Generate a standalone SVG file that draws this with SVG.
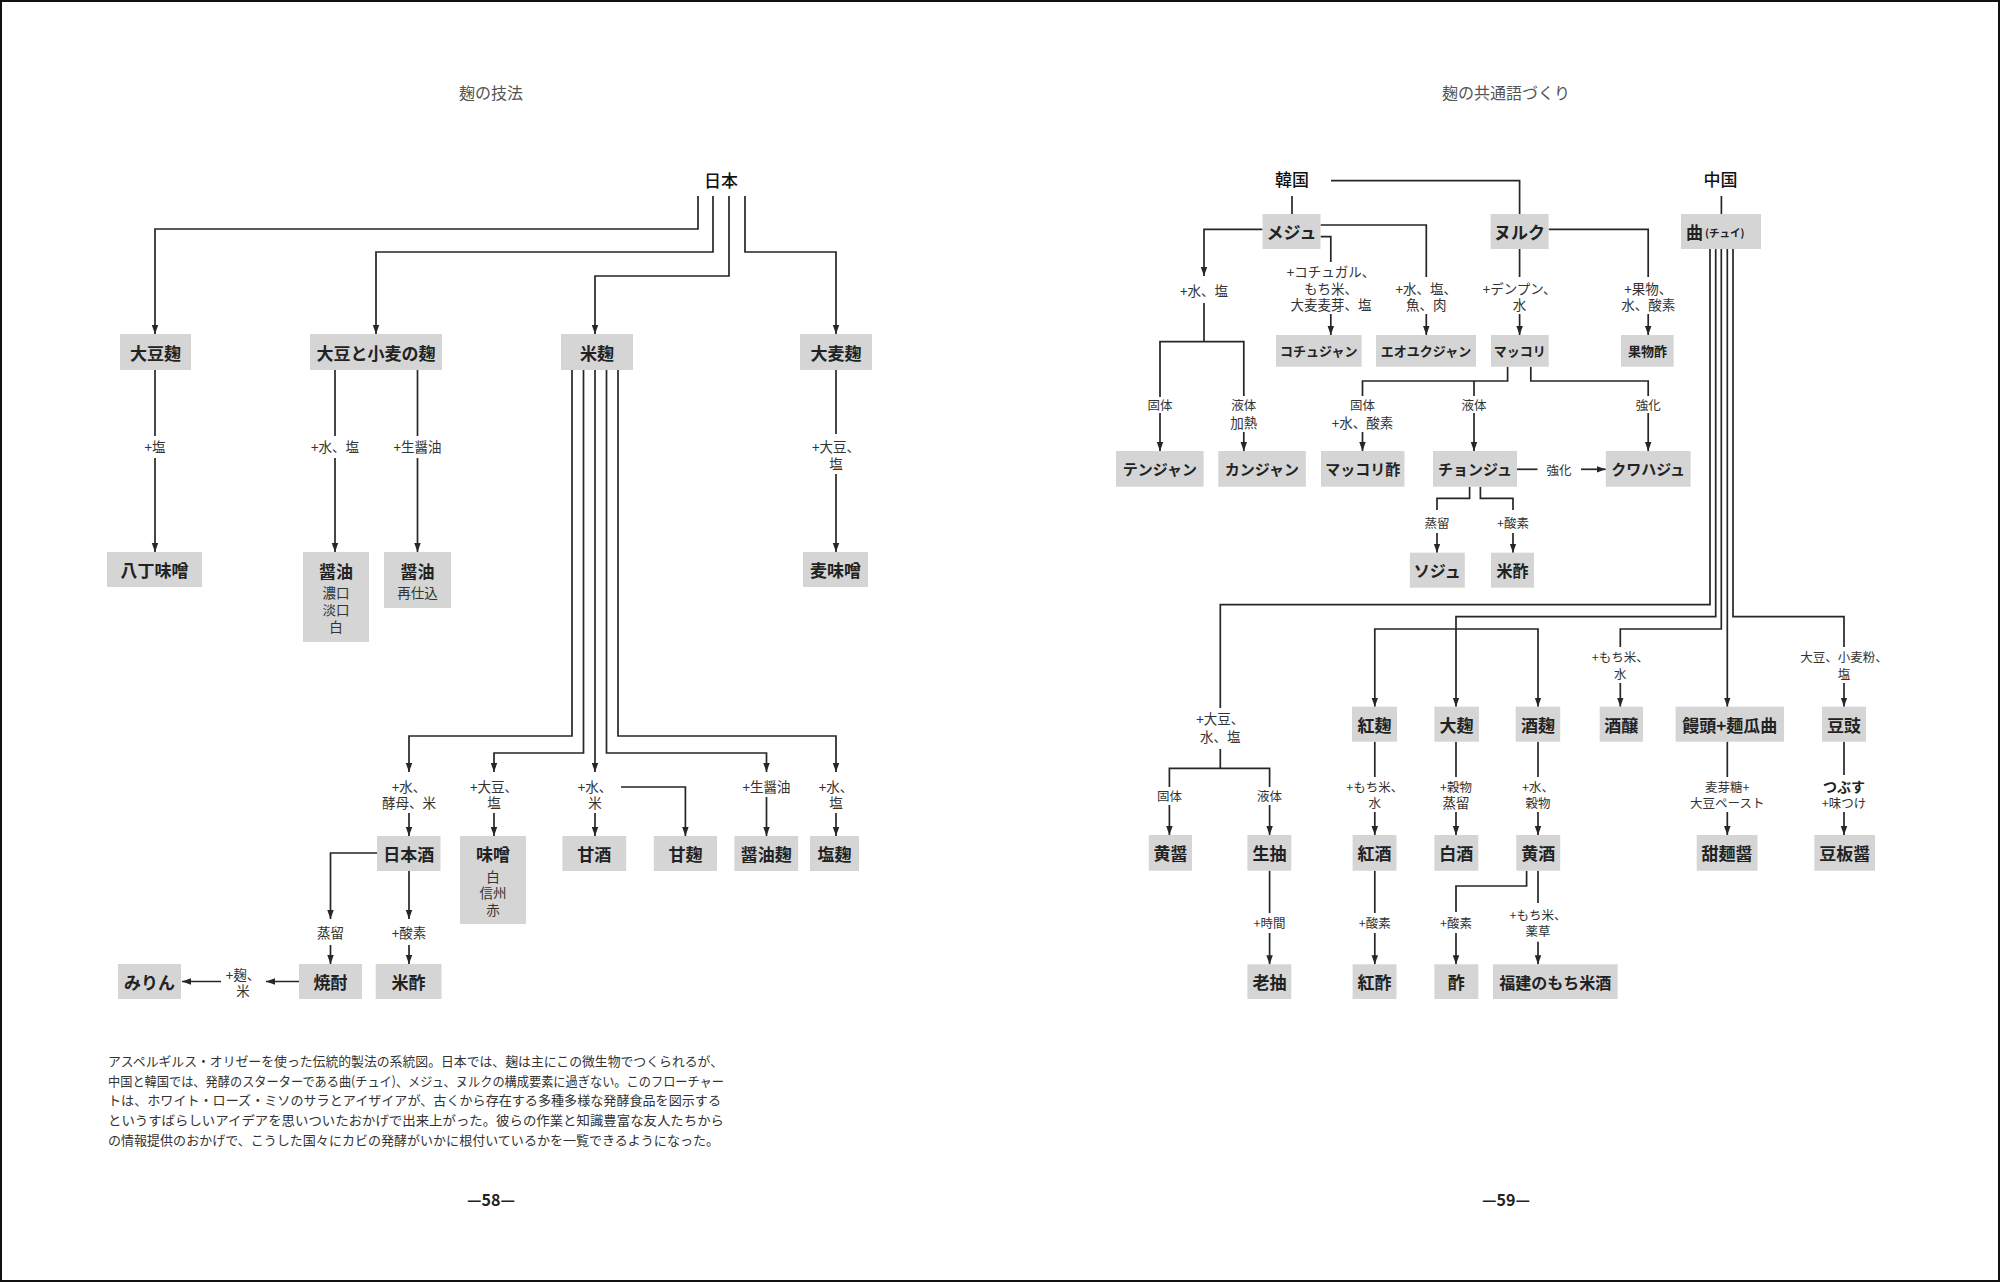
<svg xmlns="http://www.w3.org/2000/svg" width="2000" height="1282" viewBox="0 0 2000 1282">
<defs>
<style>
text{font-family:"Noto Sans CJK JP","Noto Sans CJK SC",sans-serif;fill:#222;text-anchor:middle;dominant-baseline:central}
.box{fill:#d5d5d5}
.b{font-size:17px;font-weight:700}
.bm{font-size:15px;font-weight:700}
.bs{font-size:13px;font-weight:700}
.b16{font-size:16px;font-weight:700}
.sub{font-size:13.5px;fill:#333}
.lb{font-size:13.5px;fill:#333}
.ls{font-size:12.5px;fill:#333}
.lbb{font-size:14px;font-weight:700;fill:#222}
.hd{font-size:17px;font-weight:500;fill:#111}
.ttl{font-size:16px;fill:#555}
.para{font-size:13px;fill:#333;text-anchor:start}
.pg{font-size:16px;font-weight:700;fill:#222}
.c path{fill:none;stroke:#262626;stroke-width:1.7}
.c path.a{marker-end:url(#ah)}
</style>
<marker id="ah" viewBox="0 0 10 10" refX="10" refY="5" markerWidth="9" markerHeight="9" markerUnits="userSpaceOnUse" orient="auto">
<path d="M0,1.4L10,5L0,8.6z" fill="#262626"/>
</marker>
</defs>
<rect x="0" y="0" width="2000" height="1282" fill="#fff"/>
<rect x="1" y="1" width="1998" height="1280" fill="none" stroke="#111" stroke-width="2"/>

<g id="titles">
<text class="ttl" x="491" y="92">麹の技法</text>
<text class="ttl" x="1506" y="92">麹の共通語づくり</text>
<text class="pg" x="491" y="1199">—58—</text>
<text class="pg" x="1506" y="1199">—59—</text>
</g>

<g id="caption">
<text class="para" x="108" y="1060" textLength="615" lengthAdjust="spacingAndGlyphs">アスペルギルス・オリゼーを使った伝統的製法の系統図。日本では、麹は主にこの微生物でつくられるが、</text>
<text class="para" x="108" y="1080" textLength="616" lengthAdjust="spacingAndGlyphs">中国と韓国では、発酵のスターターである曲(チュイ)、メジュ、ヌルクの構成要素に過ぎない。このフローチャー</text>
<text class="para" x="108" y="1099.5" textLength="613" lengthAdjust="spacingAndGlyphs">トは、ホワイト・ローズ・ミソのサラとアイザイアが、古くから存在する多種多様な発酵食品を図示する</text>
<text class="para" x="108" y="1119" textLength="616" lengthAdjust="spacingAndGlyphs">というすばらしいアイデアを思いついたおかげで出来上がった。彼らの作業と知識豊富な友人たちから</text>
<text class="para" x="108" y="1139" textLength="611" lengthAdjust="spacingAndGlyphs">の情報提供のおかげで、こうした国々にカビの発酵がいかに根付いているかを一覧できるようになった。</text>
</g>

<g id="connectors" class="c">
<path class="a" d="M698,196V229H155V334"/>
<path class="a" d="M713,196V252H376V334"/>
<path class="a" d="M729,196V276H595V334"/>
<path class="a" d="M745,196V252H836V334"/>
<path d="M155,370V436"/>
<path class="a" d="M155,458V552"/>
<path d="M335,370V436"/>
<path class="a" d="M335,458V552"/>
<path d="M417.5,370V436"/>
<path class="a" d="M417.5,458V552"/>
<path d="M836,370V434"/>
<path class="a" d="M836,474V552"/>
<path class="a" d="M572,370V736H409V772"/>
<path class="a" d="M583.5,370V753H494V772"/>
<path class="a" d="M595,370V772"/>
<path class="a" d="M606.5,370V753H766.5V772"/>
<path class="a" d="M618,370V736H836V772"/>
<path class="a" d="M409,813V836"/>
<path class="a" d="M494,813V836"/>
<path class="a" d="M595,813V836"/>
<path class="a" d="M621,787H685.4V836"/>
<path class="a" d="M766.5,797V836"/>
<path class="a" d="M836,813V836"/>
<path class="a" d="M377,853H330.5V919"/>
<path class="a" d="M409,871V919"/>
<path class="a" d="M330.5,945V964"/>
<path class="a" d="M409,945V964"/>
<path class="a" d="M299,981.5H266"/>
<path class="a" d="M221,981.5H182"/>

<path d="M1331,180.7H1519.6V214"/>
<path d="M1292,196V214"/>
<path d="M1721.4,196V214"/>
<path class="a" d="M1262.5,229.3H1204V276"/>
<path d="M1204,303V341.7"/>
<path d="M1160,397V341.7H1243.8V396"/>
<path class="a" d="M1160,413V451"/>
<path class="a" d="M1243.8,432V451"/>
<path d="M1320.5,236.7H1330.8V262"/>
<path class="a" d="M1330.8,314V335"/>
<path d="M1320.5,225H1426.3V277"/>
<path class="a" d="M1426.3,314V335"/>
<path d="M1519.6,249V277"/>
<path class="a" d="M1519.6,314V335"/>
<path d="M1548.7,229.3H1648.2V277"/>
<path class="a" d="M1648.2,314V335"/>
<path d="M1507.6,366.7V381H1362.5V396"/>
<path d="M1474,381V396"/>
<path d="M1530.8,366.7V381H1648.2V396"/>
<path class="a" d="M1362.5,432V451"/>
<path class="a" d="M1474,413V451"/>
<path class="a" d="M1648.2,413V451"/>
<path d="M1517,469.3H1537.5"/>
<path class="a" d="M1581,469.3H1605.8"/>
<path d="M1469.6,486.7V498.3H1437V510"/>
<path class="a" d="M1437,533V552.7"/>
<path d="M1480.4,486.7V498.3H1513V510"/>
<path class="a" d="M1513,533V552.7"/>

<path d="M1710,249V604.7H1220.3V708"/>
<path d="M1220.3,749V768.3"/>
<path d="M1169.4,787V768.3H1269.6V787"/>
<path class="a" d="M1169.4,805V835"/>
<path class="a" d="M1269.6,805V835"/>
<path class="a" d="M1715.7,249V616.7H1456V706.7"/>
<path class="a" d="M1456,629H1374.8V706.7"/>
<path class="a" d="M1456,629H1538V706.7"/>
<path d="M1721.3,249V629H1620.3V647"/>
<path class="a" d="M1620.3,683V706.7"/>
<path class="a" d="M1727.3,249V706.7"/>
<path d="M1733,249V616.7H1844V647"/>
<path class="a" d="M1844,683V706.7"/>
<path d="M1374.8,741.7V777"/>
<path class="a" d="M1374.8,812V835"/>
<path d="M1456,741.7V777"/>
<path class="a" d="M1456,812V835"/>
<path d="M1538,741.7V777"/>
<path class="a" d="M1538,812V835"/>
<path d="M1727.3,741.7V777"/>
<path class="a" d="M1727.3,812V835"/>
<path d="M1844,741.7V775"/>
<path class="a" d="M1844,812V835"/>
<path d="M1269.6,870.7V913"/>
<path class="a" d="M1269.6,933V964.3"/>
<path d="M1374.8,870.7V913"/>
<path class="a" d="M1374.8,933V964.3"/>
<path d="M1526.6,870.7V886H1456V912"/>
<path class="a" d="M1456,933V964.3"/>
<path d="M1538,870.7V903"/>
<path class="a" d="M1538,941.7V964.3"/>
</g>

<g id="labels">
<text class="lb" x="155" y="446">+塩</text>
<text class="lb" x="335" y="446">+水、塩</text>
<text class="lb" x="417.5" y="446">+生醤油</text>
<text class="lb" x="836" y="446">+大豆、</text>
<text class="lb" x="836" y="463">塩</text>
<text class="lb" x="409" y="786">+水、</text>
<text class="lb" x="409" y="802">酵母、米</text>
<text class="lb" x="494" y="786">+大豆、</text>
<text class="lb" x="494" y="802">塩</text>
<text class="lb" x="595" y="786">+水、</text>
<text class="lb" x="595" y="802">米</text>
<text class="lb" x="766.5" y="786">+生醤油</text>
<text class="lb" x="836" y="786">+水、</text>
<text class="lb" x="836" y="802">塩</text>
<text class="lb" x="330.5" y="932">蒸留</text>
<text class="lb" x="409" y="932">+酸素</text>
<text class="lb" x="243" y="974">+麹、</text>
<text class="lb" x="243" y="990">米</text>

<text class="lb" x="1204" y="290">+水、塩</text>
<text class="lb" x="1331" y="270.7">+コチュガル、</text>
<text class="lb" x="1331" y="288.3">もち米、</text>
<text class="lb" x="1331" y="304.3">大麦麦芽、塩</text>
<text class="lb" x="1426.3" y="287.7">+水、塩、</text>
<text class="lb" x="1426.3" y="304.3">魚、肉</text>
<text class="lb" x="1519.6" y="287.7">+デンプン、</text>
<text class="lb" x="1519.6" y="304.3">水</text>
<text class="lb" x="1648.2" y="287.7">+果物、</text>
<text class="lb" x="1648.2" y="304.3">水、酸素</text>
<text class="ls" x="1160" y="404">固体</text>
<text class="ls" x="1243.8" y="404">液体</text>
<text class="lb" x="1243.8" y="422.3">加熱</text>
<text class="ls" x="1362.5" y="404">固体</text>
<text class="lb" x="1362.5" y="422">+水、酸素</text>
<text class="ls" x="1474" y="404">液体</text>
<text class="ls" x="1648.2" y="404">強化</text>
<text class="ls" x="1559" y="469.3">強化</text>
<text class="ls" x="1437" y="522.7">蒸留</text>
<text class="ls" x="1513" y="522.7">+酸素</text>
<text class="lb" x="1220.3" y="718.3">+大豆、</text>
<text class="lb" x="1220.3" y="736">水、塩</text>
<text class="ls" x="1169.4" y="795">固体</text>
<text class="ls" x="1269.6" y="795">液体</text>
<text class="ls" x="1620.3" y="656.7">+もち米、</text>
<text class="ls" x="1620.3" y="673.3">水</text>
<text class="ls" x="1844" y="656.7">大豆、小麦粉、</text>
<text class="ls" x="1844" y="673.3">塩</text>
<text class="ls" x="1374.8" y="786">+もち米、</text>
<text class="ls" x="1374.8" y="802.3">水</text>
<text class="ls" x="1456" y="786">+穀物</text>
<text class="lb" x="1456" y="802.3">蒸留</text>
<text class="ls" x="1538" y="786">+水、</text>
<text class="ls" x="1538" y="802.3">穀物</text>
<text class="ls" x="1727.3" y="786">麦芽糖+</text>
<text class="ls" x="1727.3" y="802.3">大豆ペースト</text>
<text class="lbb" x="1844" y="786">つぶす</text>
<text class="ls" x="1844" y="802.3">+味つけ</text>
<text class="ls" x="1269.6" y="922.7">+時間</text>
<text class="ls" x="1374.8" y="922.7">+酸素</text>
<text class="ls" x="1456" y="922.7">+酸素</text>
<text class="ls" x="1538" y="914.3">+もち米、</text>
<text class="ls" x="1538" y="930">薬草</text>
</g>

<g id="n-nihon"><text class="hd" x="721" y="179">日本</text></g>
<g id="n-kankoku"><text class="hd" x="1292" y="178.3">韓国</text></g>
<g id="n-chugoku"><text class="hd" x="1720.5" y="178.3">中国</text></g>

<g id="n-daizu-koji"><rect class="box" x="120" y="334" width="71" height="36"/><text class="b" x="155.5" y="352">大豆麹</text></g>
<g id="n-daizu-komugi-koji"><rect class="box" x="310" y="334" width="132" height="36"/><text class="b" x="376" y="352">大豆と小麦の麹</text></g>
<g id="n-kome-koji"><rect class="box" x="561" y="334" width="72" height="36"/><text class="b" x="597" y="352">米麹</text></g>
<g id="n-omugi-koji"><rect class="box" x="800" y="334" width="72" height="36"/><text class="b" x="836" y="352">大麦麹</text></g>
<g id="n-hatcho-miso"><rect class="box" x="107" y="552" width="95" height="35"/><text class="b" x="154.5" y="569.5">八丁味噌</text></g>
<g id="n-shoyu1"><rect class="box" x="303" y="552" width="66" height="90"/><text class="b" x="336" y="570">醤油</text><text class="sub" x="336" y="592">濃口</text><text class="sub" x="336" y="609">淡口</text><text class="sub" x="336" y="626">白</text></g>
<g id="n-shoyu2"><rect class="box" x="384" y="552" width="67" height="56"/><text class="b" x="417.5" y="570">醤油</text><text class="sub" x="417.5" y="592">再仕込</text></g>
<g id="n-mugi-miso"><rect class="box" x="803" y="552" width="65" height="35"/><text class="b" x="835.5" y="569.5">麦味噌</text></g>
<g id="n-nihonshu"><rect class="box" x="377" y="836" width="63.5" height="35"/><text class="b" x="408.7" y="853">日本酒</text></g>
<g id="n-miso"><rect class="box" x="460" y="836" width="66" height="88"/><text class="b" x="493" y="853">味噌</text><text class="sub" x="493" y="875.7">白</text><text class="sub" x="493" y="892">信州</text><text class="sub" x="493" y="909">赤</text></g>
<g id="n-amazake"><rect class="box" x="562.4" y="836" width="63.8" height="35"/><text class="b" x="594.3" y="853">甘酒</text></g>
<g id="n-amakoji"><rect class="box" x="653.8" y="836" width="63.2" height="35"/><text class="b" x="685.4" y="853">甘麹</text></g>
<g id="n-shoyu-koji"><rect class="box" x="734.4" y="836" width="63.8" height="35"/><text class="b" x="766.3" y="853">醤油麹</text></g>
<g id="n-shio-koji"><rect class="box" x="810" y="836" width="49" height="35"/><text class="b" x="834.5" y="853">塩麹</text></g>
<g id="n-shochu"><rect class="box" x="299" y="964" width="63" height="35"/><text class="b" x="330.5" y="981.5">焼酎</text></g>
<g id="n-komezu-jp"><rect class="box" x="375.7" y="964" width="65.8" height="35"/><text class="b" x="408.6" y="981.5">米酢</text></g>
<g id="n-mirin"><rect class="box" x="118" y="964" width="63" height="35"/><text class="b" x="149.5" y="981.5">みりん</text></g>

<g id="n-meju"><rect class="box" x="1262.5" y="214" width="58" height="35"/><text class="b" x="1291.5" y="231.5">メジュ</text></g>
<g id="n-nuruk"><rect class="box" x="1490.6" y="214" width="58" height="35"/><text class="b" x="1519.6" y="231.5">ヌルク</text></g>
<g id="n-qu"><rect class="box" x="1681" y="214" width="80" height="35"/><text class="b" x="1686" y="231.5" style="text-anchor:start">曲<tspan font-size="10.5" font-weight="700" dx="2">(チュイ)</tspan></text></g>
<g id="n-gochujang"><rect class="box" x="1276" y="335" width="85.6" height="31.7"/><text class="bs" x="1318.8" y="350.8">コチュジャン</text></g>
<g id="n-eoyukjang"><rect class="box" x="1376" y="335" width="100" height="31.7"/><text class="bs" x="1426" y="350.8">エオユクジャン</text></g>
<g id="n-makgeolli"><rect class="box" x="1491" y="335" width="57.7" height="31.7"/><text class="bs" x="1519.8" y="350.8">マッコリ</text></g>
<g id="n-kudamonozu"><rect class="box" x="1621" y="335" width="52.7" height="31.7"/><text class="bs" x="1647.4" y="350.8">果物酢</text></g>
<g id="n-doenjang"><rect class="box" x="1116" y="451" width="87.6" height="35.7"/><text class="bm" x="1159.8" y="468.8">テンジャン</text></g>
<g id="n-ganjang"><rect class="box" x="1218.3" y="451" width="87.5" height="35.7"/><text class="bm" x="1262" y="468.8">カンジャン</text></g>
<g id="n-makgeolli-su"><rect class="box" x="1321" y="451" width="83.5" height="35.7"/><text class="bm" x="1362.7" y="468.8">マッコリ酢</text></g>
<g id="n-cheongju"><rect class="box" x="1433" y="451" width="84" height="35.7"/><text class="bm" x="1475" y="468.8">チョンジュ</text></g>
<g id="n-gwahaju"><rect class="box" x="1605.8" y="451" width="84.8" height="35.7"/><text class="bm" x="1648.2" y="468.8">クワハジュ</text></g>
<g id="n-soju"><rect class="box" x="1409.8" y="552.7" width="55" height="35"/><text class="b16" x="1437.3" y="570.2">ソジュ</text></g>
<g id="n-komezu-kr"><rect class="box" x="1491" y="552.7" width="43" height="35"/><text class="b16" x="1512.5" y="570.2">米酢</text></g>

<g id="n-hongqu"><rect class="box" x="1352" y="706.7" width="45" height="35"/><text class="b" x="1374.5" y="724.2">紅麹</text></g>
<g id="n-daqu"><rect class="box" x="1434.4" y="706.7" width="44.5" height="35"/><text class="b" x="1456.6" y="724.2">大麹</text></g>
<g id="n-jiuqu"><rect class="box" x="1515.7" y="706.7" width="44.5" height="35"/><text class="b" x="1538" y="724.2">酒麹</text></g>
<g id="n-jiuniang"><rect class="box" x="1599.7" y="706.7" width="43.3" height="35"/><text class="b" x="1621.3" y="724.2">酒醸</text></g>
<g id="n-mantou"><rect class="box" x="1675.6" y="706.7" width="108.4" height="35"/><text class="b" x="1729.8" y="724.2">饅頭+麺瓜曲</text></g>
<g id="n-douchi"><rect class="box" x="1822" y="706.7" width="44" height="35"/><text class="b" x="1844" y="724.2">豆豉</text></g>
<g id="n-huangjiang"><rect class="box" x="1148.8" y="835" width="43.2" height="35.7"/><text class="b" x="1170.4" y="852.8">黄醤</text></g>
<g id="n-shengchou"><rect class="box" x="1247.4" y="835" width="43.9" height="35.7"/><text class="b" x="1269.4" y="852.8">生抽</text></g>
<g id="n-hongjiu"><rect class="box" x="1352.6" y="835" width="43.9" height="35.7"/><text class="b" x="1374.5" y="852.8">紅酒</text></g>
<g id="n-baijiu"><rect class="box" x="1434.4" y="835" width="43.9" height="35.7"/><text class="b" x="1456.3" y="852.8">白酒</text></g>
<g id="n-huangjiu"><rect class="box" x="1516.3" y="835" width="43.9" height="35.7"/><text class="b" x="1538.2" y="852.8">黄酒</text></g>
<g id="n-tianmianjiang"><rect class="box" x="1696.7" y="835" width="60.8" height="35.7"/><text class="b" x="1727.1" y="852.8">甜麺醤</text></g>
<g id="n-doubanjiang"><rect class="box" x="1814.4" y="835" width="60.6" height="35.7"/><text class="b" x="1844.7" y="852.8">豆板醤</text></g>
<g id="n-laochou"><rect class="box" x="1247.4" y="964.3" width="43.9" height="34.7"/><text class="b" x="1269.4" y="981.7">老抽</text></g>
<g id="n-hongcu"><rect class="box" x="1352.6" y="964.3" width="43.9" height="34.7"/><text class="b" x="1374.5" y="981.7">紅酢</text></g>
<g id="n-cu"><rect class="box" x="1434.4" y="964.3" width="43.9" height="34.7"/><text class="b" x="1456.3" y="981.7">酢</text></g>
<g id="n-fujian"><rect class="box" x="1493" y="964.3" width="124.6" height="34.7"/><text class="b16" x="1555.3" y="981.7">福建のもち米酒</text></g>
</svg>
